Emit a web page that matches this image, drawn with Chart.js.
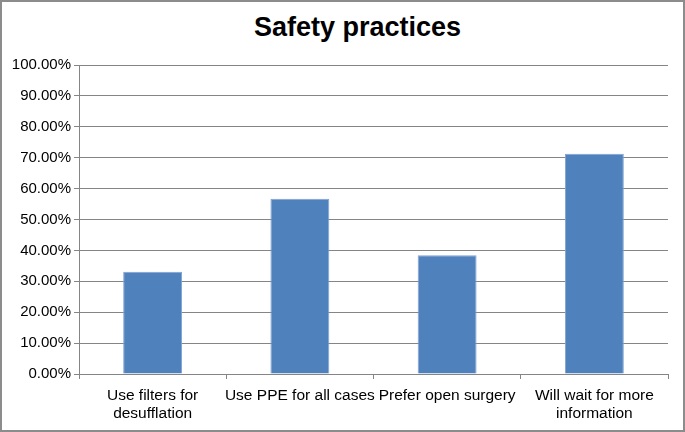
<!DOCTYPE html>
<html>
<head>
<meta charset="utf-8">
<script src="https://cdn.jsdelivr.net/npm/chart.js@4/dist/chart.umd.min.js"></script>
<style>
  body { margin: 0; background: #fff; }
  #wrap {
    position: relative;
    width: 685px;
    height: 432px;
    box-sizing: border-box;
    border: 2px solid #8c8c8c;
    background: #fff;
  }
  #title {
    position: absolute;
    top: 12px;
    left: 0;
    width: 100%;
    box-sizing: border-box;
    padding-left: 30px;
    text-align: center;
    font: bold 27px "Liberation Sans", Arial, sans-serif;
    line-height: 27px;
    color: #000;
  }
  #chart { position: absolute; left: 0; top: 0; }
</style>
</head>
<body>
<div id="wrap">
  <div id="title">Safety practices</div>
  <canvas id="chart" width="681" height="428"></canvas>
</div>
<script>
// categories (multi-line labels as arrays)
const categories = [
  ["Use filters for", "desufflation"],
  "Use PPE for all cases",
  "Prefer open surgery",
  ["Will wait for more", "information"]
];
// percentage of respondents
const values = [33.1, 56.7, 38.4, 71.3];

const yMin = 0;
const yMax = 100;
const yStep = 10;

const gridColor = "#858585";
const yFont = { family: "'Liberation Sans', Arial, sans-serif", size: 15 };
const xFont = { family: "'Liberation Sans', Arial, sans-serif", size: 15.5, lineHeight: 1.2 };

const ctx = document.getElementById("chart").getContext("2d");
new Chart(ctx, {
  type: "bar",
  data: {
    labels: categories,
    datasets: [
      {
        label: "Safety practices",
        data: values,
        backgroundColor: "#4f81bd",
        borderColor: "#7fa3d3",
        borderWidth: 1,
        barPercentage: 0.4,
        categoryPercentage: 1.0,
      },
    ],
  },
  options: {
    responsive: false,
    animation: false,
    layout: {
      padding: { left: 0, right: 15, top: 63, bottom: 0 },
    },
    plugins: {
      legend: { display: false },
      title: { display: false },
      tooltip: { enabled: false },
    },
    scales: {
      x: {
        grid: {
          display: true,
          drawOnChartArea: false,
          drawTicks: true,
          tickLength: 5,
          color: gridColor,
          offset: true,
        },
        border: { display: true, color: gridColor, width: 1 },
        ticks: {
          color: "#000",
          font: xFont,
          padding: 7,
          maxRotation: 0,
          autoSkip: false,
        },
        afterFit: (scale) => {
          scale.height = 56;
        },
      },
      y: {
        min: yMin,
        max: yMax,
        grid: {
          color: gridColor,
          lineWidth: 1,
          drawTicks: true,
          tickLength: 5,
        },
        border: { display: true, color: gridColor, width: 1 },
        ticks: {
          stepSize: yStep,
          color: "#000",
          font: yFont,
          padding: 3,
          callback: (v) => v.toFixed(2) + "%",
        },
        afterFit: (scale) => {
          scale.width = 77;
        },
      },
    },
  },
});
</script>
</body>
</html>
